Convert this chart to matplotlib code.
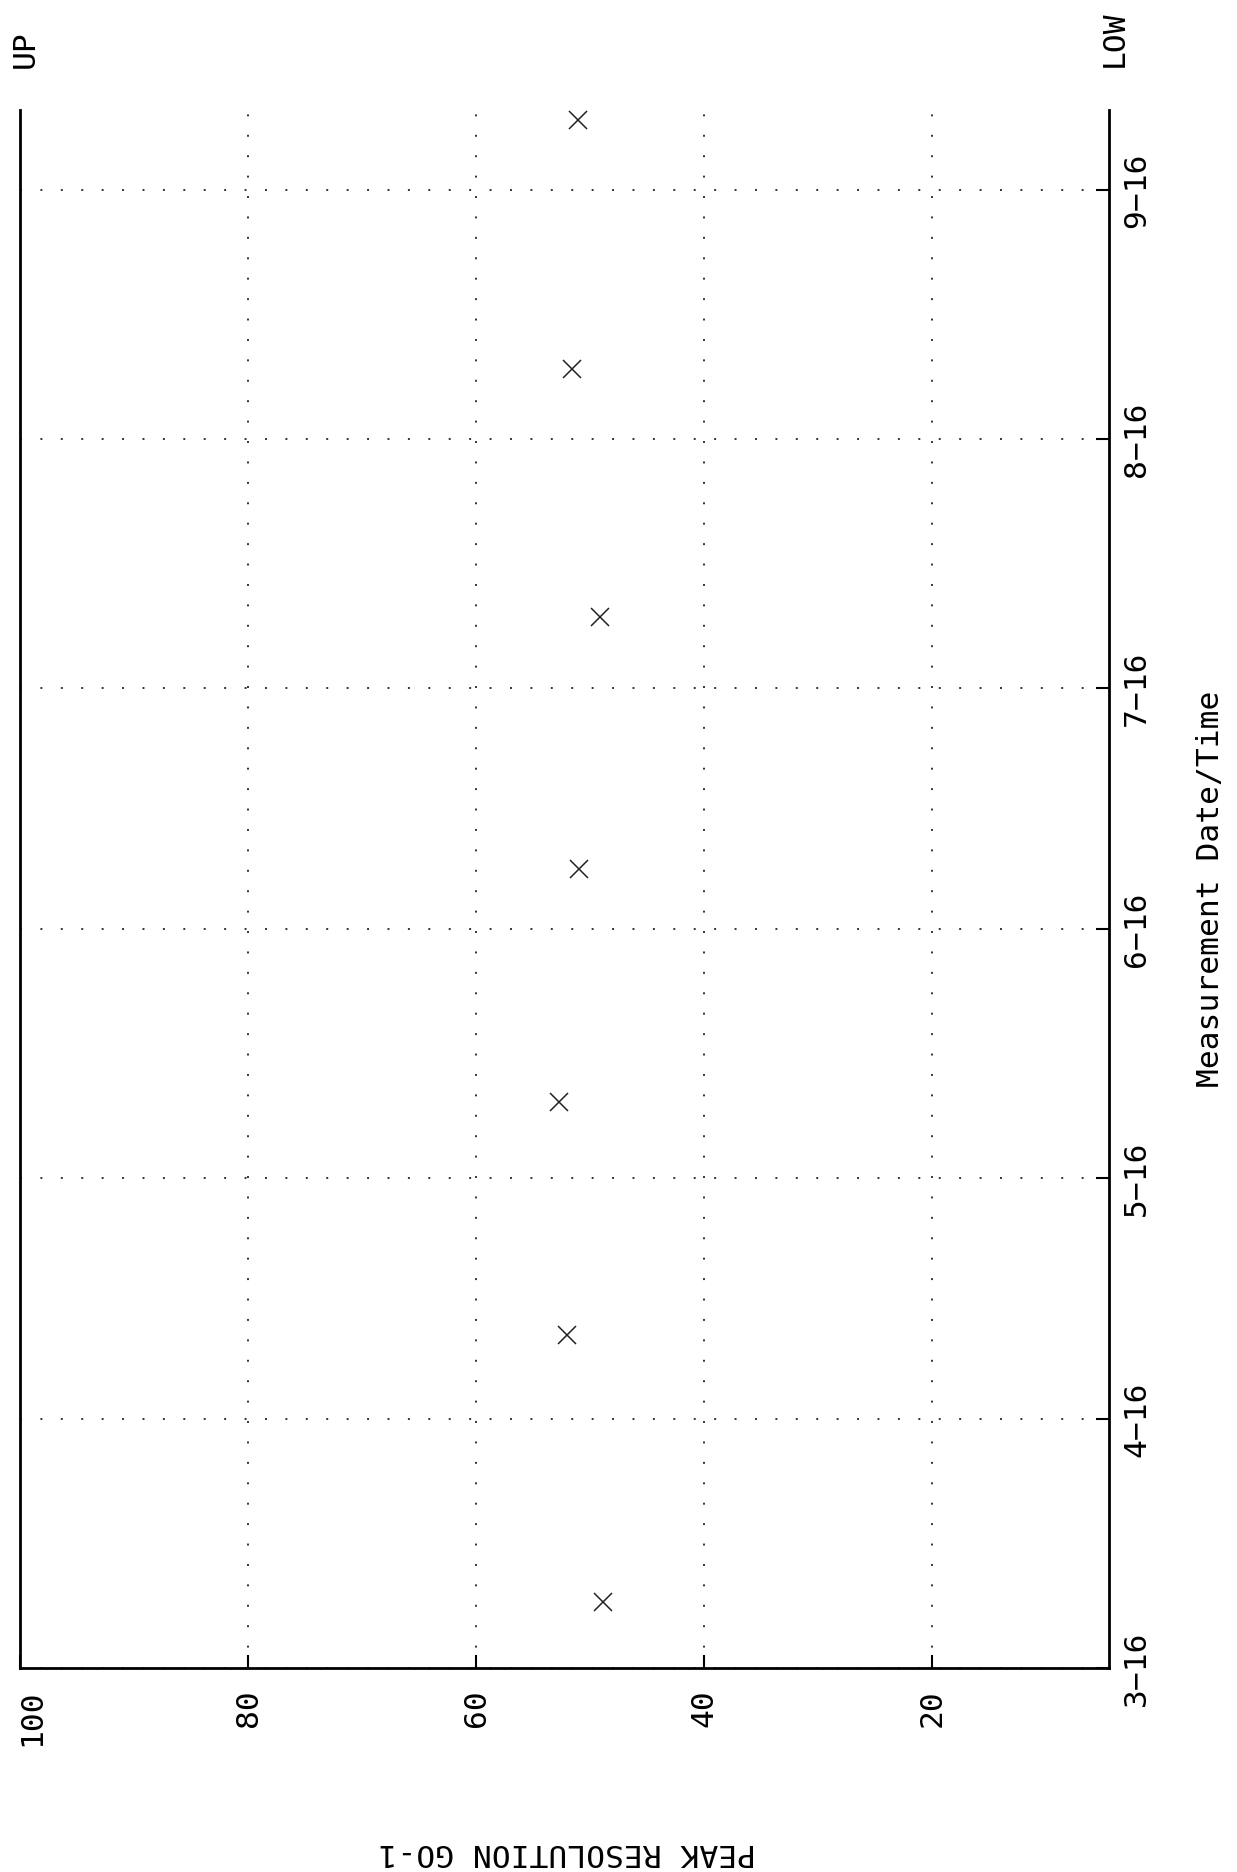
import matplotlib
matplotlib.use('Agg')
import matplotlib.pyplot as plt
import matplotlib.transforms as mtransforms
import pandas as pd

##---- data
meas_dates = ['2016-03-24 05:00', '2016-04-26 12:00', '2016-05-25 12:00', '2016-06-23 12:00',
              '2016-07-24 22:00', '2016-08-24 19:00', '2016-09-24 17:00']
peak_res = [48.9, 52.0, 52.7, 51.0, 49.1, 51.6, 51.1]
tick_dates = ['2016-03-16', '2016-04-16', '2016-05-16', '2016-06-16',
              '2016-07-16', '2016-08-16', '2016-09-16']
tick_labels = ['3\u221216', '4\u221216', '5\u221216', '6\u221216', '7\u221216', '8\u221216', '9\u221216']
value_ticks = [100, 80, 60, 40, 20]

plt.rcParams['font.family'] = ['DejaVu Sans Mono']
fs = 22.5

W, H = 1237, 1872
fig = plt.figure(figsize=(W / 100, H / 100), dpi=100)
# axes box in pixels: left 20, right 1109, top 110, bottom 1668
ax = fig.add_axes([20 / W, 1 - 1668 / H, (1109 - 20) / W, (1668 - 110) / H])

x_dates = pd.to_datetime(meas_dates)
ax.plot(peak_res, x_dates, linestyle='none', marker='x', markersize=13,
        markeredgewidth=1.1, color='#222222')

# value axis runs right to left (chart is turned on its side)
ax.set_xlim(100, 4.5)
ax.set_ylim(pd.Timestamp('2016-03-16'), pd.Timestamp('2016-09-26'))

ax.set_xticks(value_ticks)
ax.set_xticklabels([str(v) for v in value_ticks], rotation=90, fontsize=fs)
ax.set_yticks(pd.to_datetime(tick_dates))
ax.set_yticklabels(tick_labels, rotation=90, fontsize=fs, va='center')

ax.yaxis.tick_right()
ax.tick_params(axis='x', direction='in', length=9.5, width=1.5, pad=15.5, colors='black')
ax.tick_params(axis='y', direction='in', length=9.5, width=1.5, pad=9.5, colors='black')

# "100" label sits a bit inside the left edge
lab0 = ax.get_xticklabels()[0]
lab0.set_transform(lab0.get_transform() + mtransforms.ScaledTranslation(0.12, 0, fig.dpi_scale_trans))

for side in ['left', 'right', 'bottom']:
    ax.spines[side].set_linewidth(2)
    ax.spines[side].set_color('black')
ax.spines['top'].set_visible(False)

# dotted grid
ax.grid(True, color='#333333', linewidth=1.4, linestyle=(0, (1, 9.5)))

# texts around the plot
fig.text(1210 / W, 1 - 889 / H, 'Measurement Date/Time', rotation=90,
         ha='center', va='center', fontsize=fs)
fig.text(567 / W, 1 - 1852 / H, 'PEAK RESOLUTION GO-1', rotation=180,
         ha='center', va='center', fontsize=fs)
fig.text(25 / W, 1 - 68 / H, 'UP', rotation=90, ha='center', va='bottom', fontsize=fs)
fig.text(1114 / W, 1 - 67 / H, 'LOW', rotation=90, ha='center', va='bottom', fontsize=fs)

plt.savefig('out.png', dpi=100)
